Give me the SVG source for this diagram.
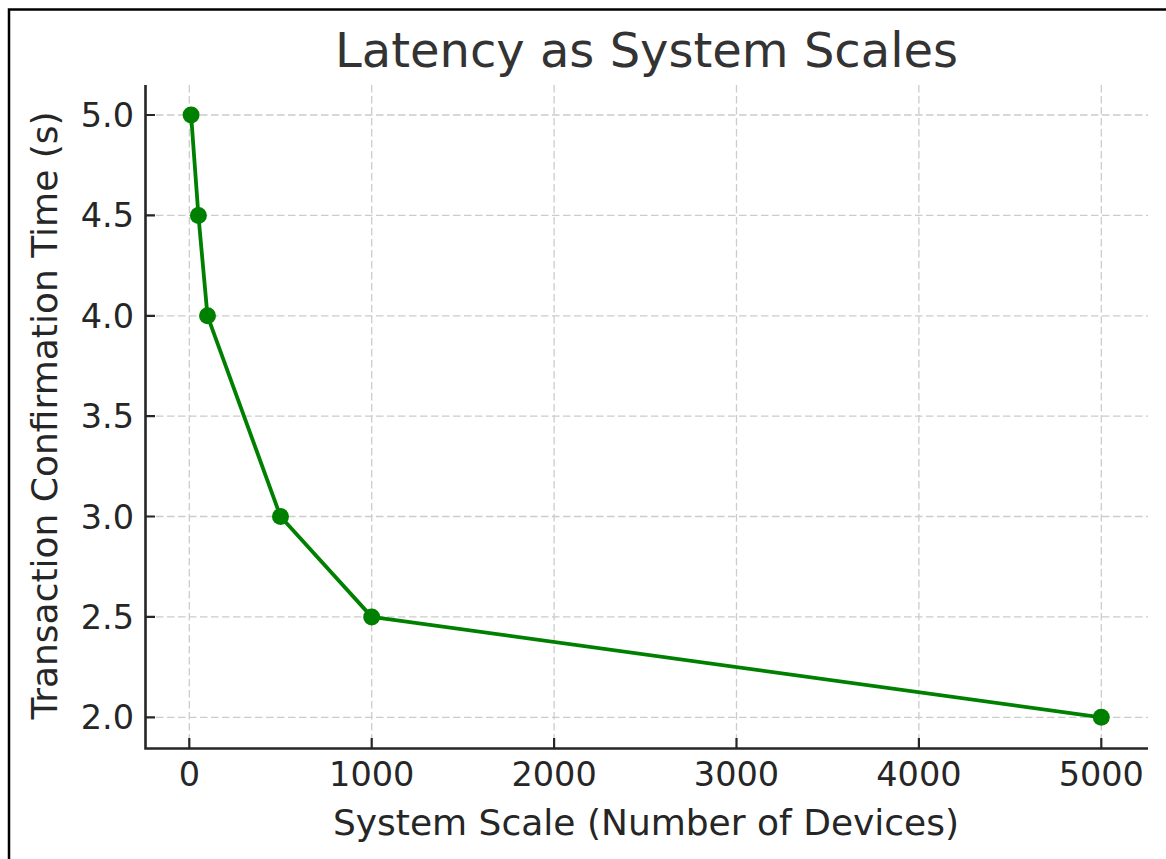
<svg xmlns="http://www.w3.org/2000/svg" width="1166" height="859" viewBox="0 0 1166 859">
<style>
.grid{stroke:#cccccc;stroke-width:1.3;stroke-dasharray:7.5,3.5;fill:none}
.spine{stroke:#262626;stroke-width:2.6;fill:none}
.tick{stroke:#262626;stroke-width:2.2}
.tl{font-family:"DejaVu Sans",sans-serif;font-size:33.5px;fill:#262626}
.lab{font-family:"DejaVu Sans",sans-serif;font-size:36px;fill:#262626}
.title{font-family:"DejaVu Sans",sans-serif;font-size:48px;fill:#333333}
.pt{fill:#008000}
</style>
<rect x="0" y="0" width="1166" height="859" fill="#ffffff"/>
<path d="M9 859 V9.5 H1166" fill="none" stroke="#000000" stroke-width="2.5"/>
<g id="grid">
<path class="grid" d="M189.3 85V748M371.7 85V748M554.1 85V748M736.5 85V748M918.9 85V748M1101.3 85V748"/>
<path class="grid" d="M145 115H1148M145 215.4H1148M145 315.8H1148M145 416.1H1148M145 516.5H1148M145 616.9H1148M145 717.3H1148"/>
</g>
<g id="axes">
<path class="spine" d="M145.5 85V748.5H1148"/>
<path class="tick" d="M145 115h10M145 215.4h10M145 315.8h10M145 416.1h10M145 516.5h10M145 616.9h10M145 717.3h10"/>
<path class="tick" d="M189.3 748v-10M371.7 748v-10M554.1 748v-10M736.5 748v-10M918.9 748v-10M1101.3 748v-10"/>
</g>
<g id="yticklabels" text-anchor="end">
<text class="tl" x="134" y="127">5.0</text>
<text class="tl" x="134" y="227.4">4.5</text>
<text class="tl" x="134" y="327.8">4.0</text>
<text class="tl" x="134" y="428.1">3.5</text>
<text class="tl" x="134" y="528.5">3.0</text>
<text class="tl" x="134" y="628.9">2.5</text>
<text class="tl" x="134" y="729.3">2.0</text>
</g>
<g id="xticklabels" text-anchor="middle">
<text class="tl" x="189.3" y="786">0</text>
<text class="tl" x="371.7" y="786">1000</text>
<text class="tl" x="554.1" y="786">2000</text>
<text class="tl" x="736.5" y="786">3000</text>
<text class="tl" x="918.9" y="786">4000</text>
<text class="tl" x="1101.3" y="786">5000</text>
</g>
<text id="title" class="title" x="646.5" y="67" text-anchor="middle">Latency as System Scales</text>
<text id="xlabel" class="lab" x="646" y="835" text-anchor="middle">System Scale (Number of Devices)</text>
<text id="ylabel" class="lab" x="0" y="0" text-anchor="middle" transform="translate(57 415.5) rotate(-90)">Transaction Confirmation Time (s)</text>
<g id="series">
<polyline points="191.1,115 198.4,215.4 207.5,315.8 280.5,516.5 371.7,616.9 1101.3,717.3" fill="none" stroke="#008000" stroke-width="3.8" stroke-linejoin="round"/>
<g id="p1"><circle class="pt" cx="191.1" cy="115" r="8.5"/></g>
<g id="p2"><circle class="pt" cx="198.4" cy="215.4" r="8.5"/></g>
<g id="p3"><circle class="pt" cx="207.5" cy="315.8" r="8.5"/></g>
<g id="p4"><circle class="pt" cx="280.5" cy="516.5" r="8.5"/></g>
<g id="p5"><circle class="pt" cx="371.7" cy="616.9" r="8.5"/></g>
<g id="p6"><circle class="pt" cx="1101.3" cy="717.3" r="8.5"/></g>
</g>
</svg>
